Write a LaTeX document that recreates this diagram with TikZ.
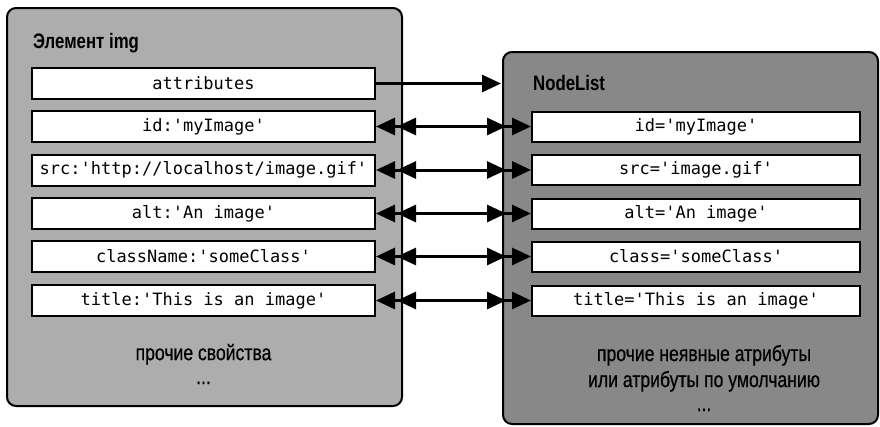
\documentclass[tikz,border=0pt]{standalone}
\usepackage{fontspec}
\setmonofont{DejaVu Sans Mono}
\newfontfamily\condf{Liberation Sans}[FakeStretch=0.8]
\newfontfamily\condm{Liberation Sans}[FakeStretch=0.8,FakeBold=0.6]
\usetikzlibrary{arrows.meta}
\definecolor{lgray}{HTML}{ADADAD}
\definecolor{dgray}{HTML}{888888}
\begin{document}
\begin{tikzpicture}[x=1pt,y=-1pt,
  outerbox/.style={draw=black,line width=2pt,rounded corners=9pt,inner sep=0pt},
  leftbox/.style={outerbox,fill=lgray,minimum width=395pt,minimum height=398pt},
  rightbox/.style={outerbox,fill=dgray,minimum width=375pt,minimum height=372pt},
  lrect/.style={draw=black,line width=2pt,fill=white,minimum width=343pt,minimum height=31pt,inner sep=0pt,font=\fontsize{17}{20}\selectfont\ttfamily},
  rrect/.style={lrect,minimum width=328pt,minimum height=30pt},
  title/.style={anchor=west,inner sep=0pt,font=\fontsize{21}{24}\selectfont\condf\bfseries},
  note/.style={align=center,inner sep=0pt,font=\fontsize{22}{28}\selectfont\condm},
  single/.style={line width=3pt,-{Triangle[length=19pt,width=17pt]},shorten >=1pt},
  dbl/.style={line width=3pt,{Triangle[length=19pt,width=17pt] Triangle[length=19pt,width=17pt,sep=2pt]}-{Triangle[length=19pt,width=17pt,sep=6pt] Triangle[length=19pt,width=17pt]}}
]
\useasboundingbox[fill=white] (0,0) rectangle (880,426);
\node[leftbox] (L) at (204.5,207) {};
\node[rightbox] (R) at (690.5,238) {};
\node[title] (Lt) at (33,43) {Элемент img};
\node[title] (Rt) at (533,83) {NodeList};
\node[lrect] (a) at (203.5,83.5) {attributes};
\node[lrect] (l1) at (203.5,126.5) {id:'myImage'};
\node[lrect] (l2) at (203.5,170) {src:'http://localhost/image.gif'};
\node[lrect] (l3) at (203.5,213.5) {alt:'An image'};
\node[lrect] (l4) at (203.5,256.5) {className:'someClass'};
\node[lrect] (l5) at (203.5,300.5) {title:'This is an image'};
\node[rrect] (r1) at (696,126.5) {id='myImage'};
\node[rrect] (r2) at (696,170) {src='image.gif'};
\node[rrect] (r3) at (696,213.5) {alt='An image'};
\node[rrect] (r4) at (696,256.5) {class='someClass'};
\node[rrect] (r5) at (696,300.5) {title='This is an image'};
\node[note] (Ln) at (203.5,364) {прочие свойства\\[-4pt]...};
\node[note] (Rn) at (704,378) {прочие неявные атрибуты\\[-2pt]или атрибуты по умолчанию\\[-4pt]...};
\draw[single] (a.east) -- (a.east -| R.west);
\foreach \i in {1,...,5} {
  \draw[dbl] (l\i.east) -- (r\i.west);
}
\end{tikzpicture}
\end{document}
